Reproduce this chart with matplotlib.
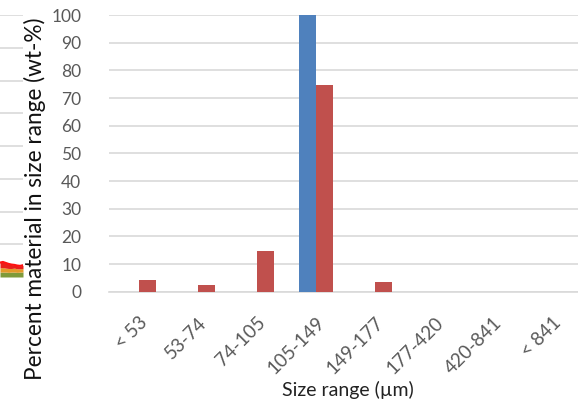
import matplotlib
matplotlib.use("Agg")
import matplotlib.pyplot as plt
import numpy as np

categories = ["< 53", "53-74", "74-105", "105-149", "149-177", "177-420", "420-841", "< 841"]
series_blue = [0, 0, 0, 100, 0, 0, 0, 0]
series_red = [4.4, 2.3, 14.7, 74.6, 3.6, 0, 0, 0]
y_ticks = [0, 10, 20, 30, 40, 50, 60, 70, 80, 90, 100]

# neighbouring panel peeking in at the left edge
side_x = [0, 1, 2, 3, 4, 5, 6, 7, 8]
side_green = [0.15, 0.15, 0.15, 0.14, 0.15, 0.15, 0.14, 0.15, 0.15]
side_orange = [0.13, 0.14, 0.12, 0.12, 0.11, 0.12, 0.11, 0.10, 0.11]
side_red = [0.16, 0.17, 0.16, 0.14, 0.12, 0.10, 0.10, 0.09, 0.10]

BLUE = "#4F81BD"
RED = "#C0504D"
GRID = "#D9D9D9"
TXT = "#595959"
FONT = ["Lato", "DejaVu Sans"]

W, H = 578, 401
fig = plt.figure(figsize=(W / 100, H / 100), dpi=100)


def px_axes(x0, y0, x1, y1):
    return fig.add_axes([x0 / W, 1 - y1 / H, (x1 - x0) / W, (y1 - y0) / H])


# side panel
sax = px_axes(0, 15, 23, 277)
sax.set_xlim(0, 8)
sax.set_ylim(0, 8)
for g in range(1, 9):
    sax.axhline(g, color=GRID, lw=1.2, zorder=0)
g1 = np.array(side_green)
o1 = g1 + np.array(side_orange)
r1 = o1 + np.array(side_red)
sax.fill_between(side_x, 0, g1, color="#7F9A3A", lw=0)
sax.fill_between(side_x, g1, o1, color="#E39A2A", lw=0)
sax.fill_between(side_x, o1, r1, color="#E8201A", lw=0)
sax.plot(side_x, r1, color="#FF1010", lw=1.5)
sax.axis("off")

# main chart
ax = px_axes(109, 15, 582, 291.7)
x = np.arange(len(categories))
w = 0.288
ax.bar(x - w / 2, series_blue, width=w, color=BLUE, zorder=3)
ax.bar(x + w / 2, series_red, width=w, color=RED, zorder=3)

ax.set_xlim(-0.5, len(categories) - 0.5)
ax.set_ylim(0, 100)
ax.set_yticks(y_ticks)
ax.set_yticklabels([str(t) for t in y_ticks], fontsize=12.5, color=TXT, family=FONT)
ax.yaxis.grid(True, color=GRID, lw=1.2, zorder=0)
ax.set_axisbelow(True)
ax.tick_params(axis="y", length=0, pad=20)
ax.tick_params(axis="x", length=0, pad=16)
ax.set_xticks(x)
ax.set_xticklabels(categories, rotation=45, ha="right", rotation_mode="anchor",
                   fontsize=13.5, color=TXT, family=FONT)
for s in ["top", "right", "left"]:
    ax.spines[s].set_visible(False)
ax.spines["bottom"].set_color(GRID)
ax.spines["bottom"].set_linewidth(1.2)

fig.text(348 / W, 1 - 390 / H, "Size range (\u00b5m)", ha="center", va="center",
         fontsize=14, color="#222222", family=FONT)
fig.text(35 / W, 1 - 199 / H, "Percent material in size range (wt-%)", rotation=90,
         ha="center", va="center", fontsize=16.3, color="#111111", family=FONT)

fig.savefig("out.png", dpi=100)
